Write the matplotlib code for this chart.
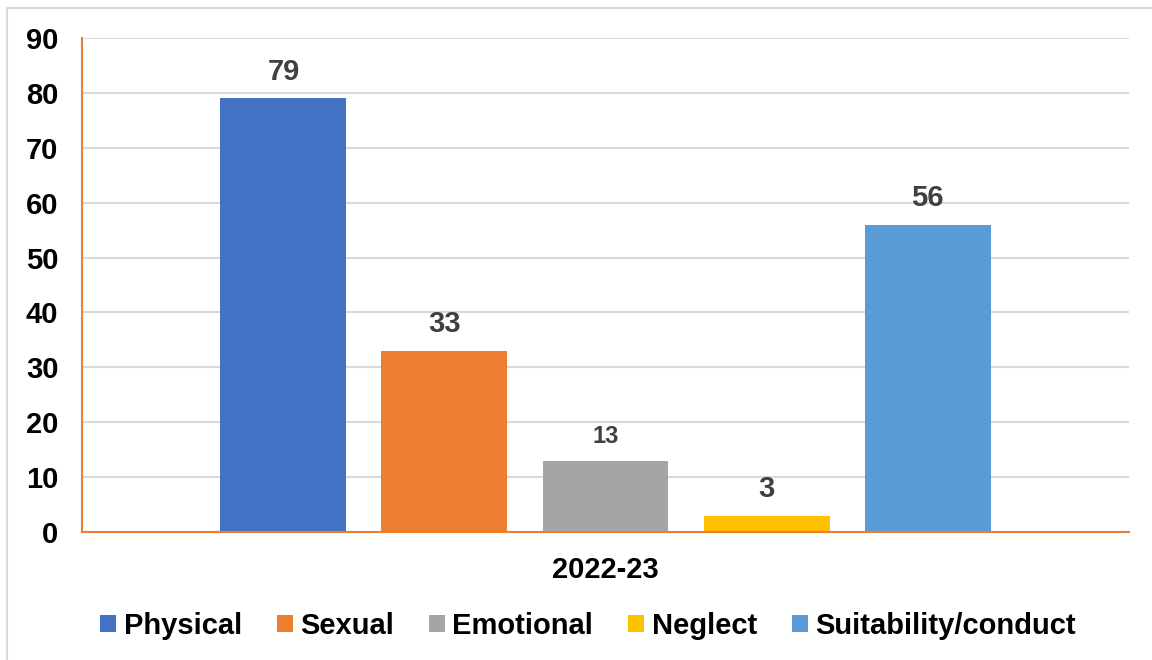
import matplotlib.pyplot as plt
from matplotlib.patches import Rectangle

# data
years = ['2022-23']
series = ['Physical', 'Sexual', 'Emotional', 'Neglect', 'Suitability/conduct']
values = [79, 33, 13, 3, 56]
colors = ['#4472C4', '#ED7D31', '#A5A5A5', '#FFC000', '#5B9BD5']
label_sizes = [21, 21, 17, 21, 21]

plt.rcParams['font.family'] = ['Liberation Sans', 'DejaVu Sans']
plt.rcParams['font.weight'] = 'bold'

fig = plt.figure(figsize=(11.52, 6.6), dpi=100)
ax = fig.add_axes([82 / 1152, 1 - 532 / 660, 1047 / 1152, 494 / 660])

# outer chart border
fig.patches.append(Rectangle((7 / 1152, -0.01), 1.0, 1 - 8 / 660 + 0.01,
                             transform=fig.transFigure, fill=False,
                             edgecolor='#D9D9D9', linewidth=1.5))

step = 0.1538
width = 0.1203
bars = []
for i, (name, v, c, fs) in enumerate(zip(series, values, colors, label_sizes)):
    x = (i - 2) * step
    b = ax.bar(x, v, width=width, color=c, label=name, zorder=3)
    bars.append(b)
    ax.annotate(str(v), (x, v), xytext=(0, 9), textcoords='offset points',
                ha='center', va='bottom', fontsize=fs, fontweight='bold',
                color='#404040')

ax.set_xlim(-0.5, 0.5)
ax.set_ylim(0, 90)
ax.set_yticks(range(0, 91, 10))
ax.set_xticks([0])
ax.set_xticklabels(years)
ax.tick_params(axis='both', length=0, labelsize=21, colors='black')
ax.tick_params(axis='y', pad=17)
ax.tick_params(axis='x', pad=17)
for lab in ax.get_xticklabels() + ax.get_yticklabels():
    lab.set_fontweight('bold')

ax.grid(axis='y', color='#D9D9D9', linewidth=1.5, zorder=0)
ax.spines['top'].set_visible(False)
ax.spines['right'].set_visible(False)
ax.spines['left'].set_color('#ED7D31')
ax.spines['bottom'].set_color('#ED7D31')
ax.spines['left'].set_linewidth(1.5)
ax.spines['bottom'].set_linewidth(1.5)
ax.spines['bottom'].set_zorder(4)

leg = fig.legend(handles=[b[0] for b in bars], labels=series, loc='center',
                 bbox_to_anchor=(588 / 1152, 1 - 626 / 660), ncol=5,
                 frameon=False, handlelength=0.55,
                 handleheight=0.55, handletextpad=0.25, columnspacing=1.2,
                 prop={'weight': 'bold', 'size': 21})

fig.savefig('out.png', dpi=100)
